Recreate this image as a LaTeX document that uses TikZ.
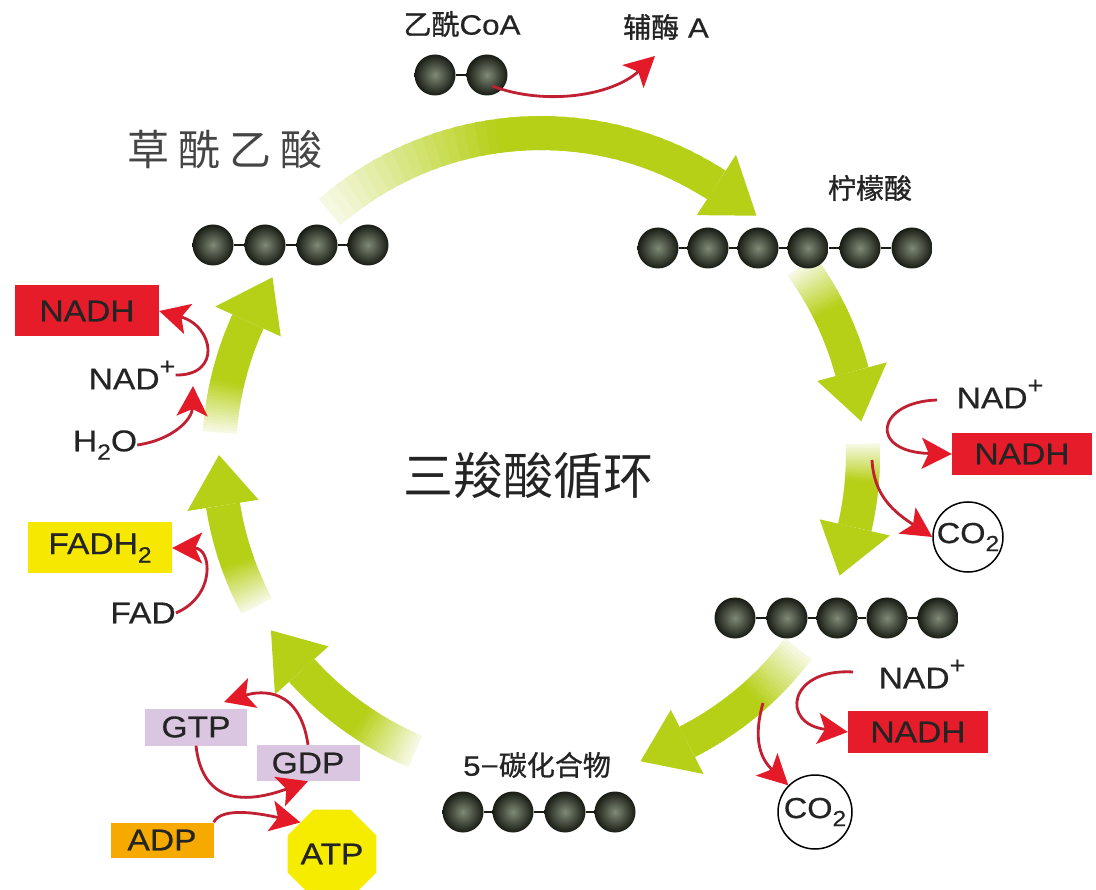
\documentclass[tikz,border=0pt]{standalone}
\usepackage{fontspec}
\setmainfont{Liberation Sans}[FakeStretch=1.12,FakeBold=0.5]
\newfontfamily\cjk{Noto Sans CJK SC}
\newfontfamily\cjkb{Noto Sans CJK SC}[FakeBold=1]
\usetikzlibrary{arrows.meta,shapes.geometric}

\definecolor{ballin}{RGB}{128,138,118}
\definecolor{ballout}{RGB}{24,28,20}
\definecolor{cycgreen}{RGB}{182,208,24}
\definecolor{cycpale}{RGB}{246,249,226}
\definecolor{rxhead}{RGB}{228,26,40}
\definecolor{rxline}{RGB}{192,32,50}
\definecolor{txt}{RGB}{36,36,36}
\definecolor{nadhred}{RGB}{230,28,42}
\definecolor{fadyel}{RGB}{246,232,0}
\definecolor{gtppur}{RGB}{218,198,224}
\definecolor{adporg}{RGB}{246,170,0}
\definecolor{atpyel}{RGB}{246,236,0}

% text super- and subscripts in the label font
\newcommand\supplus{\raisebox{0.5em}{\fontsize{24}{24}\selectfont +}}
\newcommand\subtwo{\raisebox{-0.28em}{\fontsize{22}{22}\selectfont 2}}

% cycle geometry: centre and radius of the ring of green arrows
\def\cx{541}\def\cy{455}\def\cr{322}

% one green ring arrow from angle #1 to tip angle #2, fading in from the tail
\newcommand\ringarrow[2]{%
  \pgfmathsetmacro\rbase{#2-9}%
  \foreach \k in {0,...,39}{%
    \pgfmathsetmacro\ra{#1+(\rbase-#1)*\k/40}%
    \pgfmathsetmacro\rb{#1+(\rbase-#1)*min(40,\k+1.6)/40}%
    \pgfmathtruncatemacro\pp{min(100,230*\k/40)}%
    \draw[line width=34pt,draw=cycgreen!\pp!cycpale]
      ({\cx+\cr*cos(\ra)},{\cy+\cr*sin(\ra)}) -- ({\cx+\cr*cos(\rb)},{\cy+\cr*sin(\rb)});
  }%
  \fill[cycgreen] ({\cx+(\cr-36)*cos(\rbase)},{\cy+(\cr-36)*sin(\rbase)})
    -- ({\cx+\cr*cos(#2)},{\cy+\cr*sin(#2)})
    -- ({\cx+(\cr+36)*cos(\rbase)},{\cy+(\cr+36)*sin(\rbase)}) -- cycle;
}

\begin{document}
\begin{tikzpicture}[x=1pt,y=-1pt,
  ball/.style={circle,minimum size=41pt,inner sep=0pt,shading=radial,
    inner color=ballin,outer color=ballout},
  bond/.style={draw=ballout,line width=1.3pt},
  lbl/.style={text=txt,inner sep=0pt,font=\fontsize{28}{30}\selectfont},
  chem/.style={text=txt,inner sep=0pt,font=\fontsize{30}{32}\selectfont},
  tag/.style={rectangle,inner sep=0pt,text=txt,font=\fontsize{30}{32}\selectfont},
  gas/.style={circle,draw=black,line width=1.5pt,minimum size=70pt,inner sep=0pt,
    text=txt,font=\fontsize{29}{30}\selectfont},
  rx/.style={draw=rxline,line width=2.8pt,
    -{Stealth[length=30pt,width=31pt,inset=7pt,color=rxhead]}},
]
\useasboundingbox (0,0) rectangle (1096,890);
\fill[white] (0,0) rectangle (1096,890);

% ring of green arrows
\ringarrow{-131}{-48}
\ringarrow{-36}{-6}
\ringarrow{-2}{22}
\ringarrow{37}{72}
\ringarrow{113}{147}
\ringarrow{152}{180}
\ringarrow{184}{213.5}

% acetyl-CoA
\foreach \i/\x in {1/435,2/487} \node[ball] (ac\i) at (\x,75) {};
\draw[bond] (ac1) -- (ac2);
\node[lbl] (acoa) at (462,24) {{\cjkb 乙酰}CoA};
\node[lbl] (coa) at (666,27) {{\cjkb 辅酶} A};
\coordinate (coatip) at (655,56);
\draw[rx] (492,86) .. controls (545,106) and (612,96) .. (coatip);

% oxaloacetate
\foreach \i/\x in {1/213,2/265,3/317,4/368} \node[ball] (oa\i) at (\x,245) {};
\foreach \i/\j in {1/2,2/3,3/4} \draw[bond] (oa\i) -- (oa\j);
\node[inner sep=0pt,text=txt!85,font=\cjk\fontsize{42}{44}\selectfont] (oaa) at (225,150)
  {草\hspace{9pt}酰\hspace{9pt}乙\hspace{9pt}酸};

% citrate
\foreach \i/\x in {1/658,2/708,3/758,4/808,5/860,6/912} \node[ball] (ci\i) at (\x,248) {};
\foreach \i/\j in {1/2,2/3,3/4,4/5,5/6} \draw[bond] (ci\i) -- (ci\j);
\node[lbl,font=\cjkb\fontsize{28}{30}\selectfont] (cit) at (870,188) {柠檬酸};

% 5-carbon compound
\foreach \i/\x in {1/735,2/787,3/837,4/887,5/938} \node[ball] (fv\i) at (\x,618) {};
\foreach \i/\j in {1/2,2/3,3/4,4/5} \draw[bond] (fv\i) -- (fv\j);

% 4-carbon compound
\foreach \i/\x in {1/463,2/513,3/565,4/615} \node[ball] (fr\i) at (\x,812) {};
\foreach \i/\j in {1/2,2/3,3/4} \draw[bond] (fr\i) -- (fr\j);
\node[lbl] (c5) at (537,765) {5−{\cjkb 碳化合物}};

% title in the middle
\node[inner sep=0pt,text=txt,font=\cjk\fontsize{50}{52}\selectfont] (title) at (528,476) {三羧酸循环};

% right side, first oxidation
\node[chem] (nadA) at (1000,394) {NAD\supplus};
\node[tag,fill=nadhred,minimum width=140pt,minimum height=42pt] (nadhA) at (1022,454) {NADH};
\node[gas] (coA) at (968,537) {CO\subtwo};
\draw[rx] (937,400) .. controls (876,402) and (868,452) .. (nadhA.west);
\draw[rx] (872,460) .. controls (874,496) and (894,512) .. (coA.west);

% right side, second oxidation
\node[chem] (nadB) at (922,674) {NAD\supplus};
\node[tag,fill=nadhred,minimum width=140pt,minimum height=42pt] (nadhB) at (918,732) {NADH};
\node[gas,minimum size=74pt] (coB) at (815,812) {CO\subtwo};
\draw[rx] (853,672) .. controls (788,668) and (780,724) .. (nadhB.west);
\draw[rx] (763,703) .. controls (752,742) and (762,760) .. (coB.north west);

% left side, malate step
\node[tag,fill=nadhred,minimum width=144pt,minimum height=51pt] (nadhL) at (87,311) {NADH};
\node[chem] (nadL) at (132,375) {NAD\supplus};
\node[chem] (water) at (105,445) {H\subtwo O};
\draw[rx] (nadL.east) .. controls (222,376) and (214,326) .. (nadhL.east);
\draw[rx] (water.east) .. controls (172,440) and (192,420) .. (193,386);

% left side, succinate step
\node[tag,fill=fadyel,minimum width=144pt,minimum height=51pt] (fadh) at (100,548) {FADH\subtwo};
\node[chem] (fad) at (143,613) {FAD};
\draw[rx] (fad.east) .. controls (216,596) and (212,548) .. (fadh.east);

% substrate-level phosphorylation
\node[tag,fill=gtppur,minimum width=102pt,minimum height=37pt] (gtp) at (196,727) {GTP};
\node[tag,fill=gtppur,minimum width=103pt,minimum height=36pt] (gdp) at (308,763) {GDP};
\node[tag,fill=adporg,minimum width=103pt,minimum height=35pt] (adp) at (162,840) {ADP};
\node[regular polygon,regular polygon sides=8,fill=atpyel,minimum size=96pt,inner sep=0pt,
  text=txt,font=\fontsize{30}{32}\selectfont] (atp) at (332,854) {ATP};
\draw[rx] (gdp.north) .. controls (300,688) and (262,690) .. (224,702);
\draw[rx] (gtp.south) .. controls (202,800) and (240,806) .. (gdp.south);
\draw[rx] (adp.north east) .. controls (222,806) and (262,814) .. (atp.north west);

\end{tikzpicture}
\end{document}
